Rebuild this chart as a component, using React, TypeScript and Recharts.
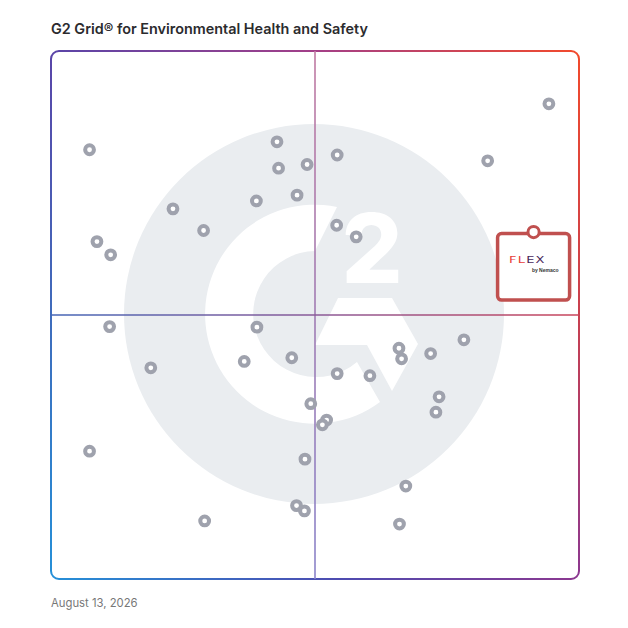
import React from "react";
import {
  ScatterChart,
  Scatter,
  XAxis,
  YAxis,
  ReferenceLine,
  Customized,
} from "recharts";

// ---- data ----
const productNames = [
  "P1","P2","P3","P4","P5","P6","P7","P8","P9","P10",
  "P11","P12","P13","P14","P15","P16","P17","P18","P19","P20",
  "P21","P22","P23","P24","P25","P26","P27","P28","P29","P30",
  "P31","P32","P33","P34","P35","P36","P37","P38",
];
const marketPresence = [
  94.3, 7.3, 42.8, 43.1, 48.5, 54.2, 82.7, 23.1, 38.9, 46.6,
  28.9, 54.1, 57.8, 8.7, 11.3, 11.1, 39.0, 18.9, 36.6, 45.6,
  54.2, 60.4, 65.9, 66.4, 71.9, 78.2, 49.2, 52.2, 51.4, 73.5,
  72.9, 7.3, 48.1, 67.2, 29.1, 46.5, 48.0, 66.0,
];
const satisfaction = [
  90.0, 81.3, 82.8, 77.8, 78.5, 80.3, 79.2, 70.1, 71.6, 72.7,
  66.0, 67.0, 64.8, 63.9, 61.4, 47.8, 47.7, 40.0, 41.2, 41.9,
  38.9, 38.5, 43.7, 41.7, 42.7, 45.3, 33.2, 30.1, 29.2, 34.5,
  31.6, 24.2, 22.7, 17.6, 11.0, 13.9, 12.9, 10.4,
];
const highlightName = ["FLEX"];
const highlightX = [91.4];
const highlightY = [65.7];

const titleText = "G2 Grid\u00AE for Environmental Health and Safety";
const dateText = "August 13, 2026";

const products = productNames.map((name, i) => ({
  name,
  x: marketPresence[i],
  y: satisfaction[i],
}));
const highlight = highlightName.map((name, i) => ({
  name,
  x: highlightX[i],
  y: highlightY[i],
}));

// ---- layout ----
const W = 628;
const H = 628;
const PL = 51;
const PT = 51;
const PR = 579;
const PB = 579;

const FONT = "Inter, 'Noto Sans', sans-serif";

const Dot = (props: any) => {
  const { cx, cy } = props;
  if (cx == null || cy == null) return null;
  return (
    <circle cx={cx} cy={cy} r={4.4} fill="#ffffff" stroke="#9fa2ad" strokeWidth={4} />
  );
};

const FlexMarker = (props: any) => {
  const { cx, cy } = props;
  if (cx == null || cy == null) return null;
  const red = "#c0504f";
  const tx = cx - 24.5;
  const ty = cy + 31;
  return (
    <g>
      <rect
        x={cx - 36}
        y={cy + 1.5}
        width={72}
        height={66.5}
        rx={4}
        ry={4}
        fill="#ffffff"
        stroke={red}
        strokeWidth={3.5}
      />
      <circle cx={cx} cy={cy} r={5.6} fill="#ffffff" stroke={red} strokeWidth={3} />
      <text
        x={tx}
        y={ty}
        textAnchor="start"
        fontFamily="'DejaVu Sans', sans-serif"
        fontSize={10}
        fontWeight={400}
        letterSpacing={0.9}
        transform={`translate(${tx} ${ty}) scale(1.3 0.85) translate(${-tx} ${-ty})`}
      >
        <tspan fill="#e8403a">FL</tspan>
        <tspan fill="#4a2a5c">EX</tspan>
      </text>
      <text
        x={cx + 25}
        y={cy + 40}
        textAnchor="end"
        fontFamily="'Liberation Sans', sans-serif"
        fontSize={5}
        fontWeight={700}
        fill="#333"
      >
        by Nemaco
      </text>
    </g>
  );
};

const Background = () => {
  const cx = (PL + PR) / 2 - 1;
  const cy = (PT + PB) / 2 - 1;
  const p = (dx: number, dy: number) => `${cx + dx},${cy + dy}`;
  const gPath =
    `M ${p(23, -107)} A 109.5 109.5 0 1 0 ${p(66, 88)} ` +
    `L ${p(43, 48)} A 63 63 0 1 1 ${p(1, -63)} Z`;
  const chevron =
    `M ${p(1, 31)} L ${p(24, -16)} L ${p(78, -16)} L ${p(104, 30)} ` +
    `L ${p(78, 77)} L ${p(53, 31)} Z`;
  return (
    <g>
      <circle cx={cx} cy={cy} r={190} fill="#eaedf0" />
      <path d={gPath} fill="#ffffff" />
      <path d={chevron} fill="#ffffff" />
      <text
        x={cx + 58}
        y={cy - 31}
        textAnchor="middle"
        fontFamily="Inter, sans-serif"
        fontWeight={800}
        fontSize={96}
        fill="#ffffff"
      >
        2
      </text>
    </g>
  );
};

const Frame = () => {
  const r = 8;
  const top = `M ${PL} ${PT + r} A ${r} ${r} 0 0 1 ${PL + r} ${PT} L ${PR - r} ${PT} A ${r} ${r} 0 0 1 ${PR} ${PT + r}`;
  const bottom = `M ${PL} ${PB - r} A ${r} ${r} 0 0 0 ${PL + r} ${PB} L ${PR - r} ${PB} A ${r} ${r} 0 0 0 ${PR} ${PB - r}`;
  const left = `M ${PL} ${PT + r} L ${PL} ${PB - r}`;
  const right = `M ${PR} ${PT + r} L ${PR} ${PB - r}`;
  return (
    <g fill="none" strokeWidth={2}>
      <defs>
        <linearGradient id="gTop" gradientUnits="userSpaceOnUse" x1={PL} y1={0} x2={PR} y2={0}>
          <stop offset="0" stopColor="#5a45a8" />
          <stop offset="0.5" stopColor="#a33f88" />
          <stop offset="1" stopColor="#f24a2c" />
        </linearGradient>
        <linearGradient id="gBottom" gradientUnits="userSpaceOnUse" x1={PL} y1={0} x2={PR} y2={0}>
          <stop offset="0" stopColor="#2590d8" />
          <stop offset="0.55" stopColor="#4e4bb0" />
          <stop offset="1" stopColor="#8c3890" />
        </linearGradient>
        <linearGradient id="gLeft" gradientUnits="userSpaceOnUse" x1={0} y1={PT} x2={0} y2={PB}>
          <stop offset="0" stopColor="#5a45a8" />
          <stop offset="0.5" stopColor="#3f6cbc" />
          <stop offset="1" stopColor="#2590d8" />
        </linearGradient>
        <linearGradient id="gRight" gradientUnits="userSpaceOnUse" x1={0} y1={PT} x2={0} y2={PB}>
          <stop offset="0" stopColor="#f24a2c" />
          <stop offset="0.5" stopColor="#c8404f" />
          <stop offset="1" stopColor="#8c3890" />
        </linearGradient>
        <linearGradient id="gV" gradientUnits="userSpaceOnUse" x1={0} y1={PT} x2={0} y2={PB}>
          <stop offset="0" stopColor="#c07aa2" />
          <stop offset="0.5" stopColor="#a07bb3" />
          <stop offset="1" stopColor="#8a83c9" />
        </linearGradient>
        <linearGradient id="gH" gradientUnits="userSpaceOnUse" x1={PL} y1={0} x2={PR} y2={0}>
          <stop offset="0" stopColor="#4566b6" />
          <stop offset="0.5" stopColor="#8a5a98" />
          <stop offset="1" stopColor="#c9445a" />
        </linearGradient>
      </defs>
      <path d={top} stroke="url(#gTop)" />
      <path d={bottom} stroke="url(#gBottom)" />
      <path d={left} stroke="url(#gLeft)" />
      <path d={right} stroke="url(#gRight)" />
    </g>
  );
};

export default function App() {
  return (
    <div
      style={{
        position: "absolute",
        left: 0,
        top: 0,
        width: W,
        height: H,
        background: "#ffffff",
      }}
    >
      <div
        style={{
          position: "absolute",
          left: 51,
          top: 20,
          fontFamily: FONT,
          fontWeight: 600,
          fontSize: 14.4,
          color: "#2b2b2e",
          whiteSpace: "nowrap",
        }}
      >
        {titleText}
      </div>
      <div style={{ position: "absolute", left: 0, top: 0 }}>
        <ScatterChart
          width={W}
          height={H}
          margin={{ top: PT, left: PL, right: W - PR, bottom: H - PB }}
        >
          <Customized component={<Background />} />
          <XAxis type="number" dataKey="x" domain={[0, 100]} hide />
          <YAxis type="number" dataKey="y" domain={[0, 100]} hide />
          <ReferenceLine x={50} stroke="url(#gV)" strokeWidth={1.6} />
          <ReferenceLine y={50} stroke="url(#gH)" strokeWidth={1.6} />
          <Customized component={<Frame />} />
          <Scatter data={products} shape={<Dot />} isAnimationActive={false} />
          <Scatter data={highlight} shape={<FlexMarker />} isAnimationActive={false} />
        </ScatterChart>
      </div>
      <div
        style={{
          position: "absolute",
          left: 51,
          top: 596,
          fontFamily: FONT,
          fontSize: 11.3,
          color: "#777",
          whiteSpace: "nowrap",
        }}
      >
        {dateText}
      </div>
    </div>
  );
}
